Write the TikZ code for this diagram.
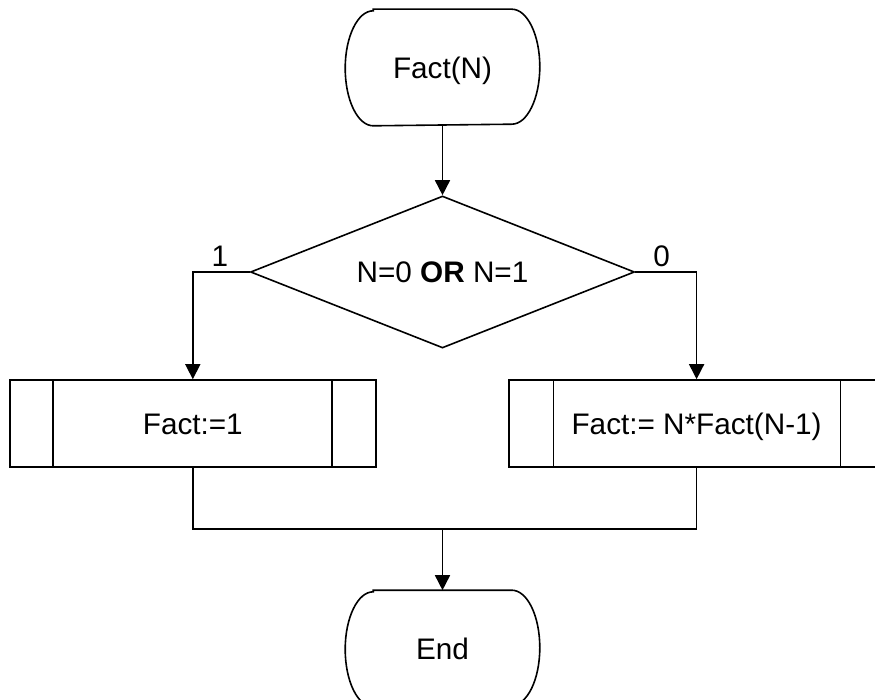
\documentclass[tikz,border=0pt]{standalone}
\usepackage{fontspec}
\setmainfont{Liberation Sans}
\usetikzlibrary{shapes.geometric,arrows.meta}
\begin{document}
\begin{tikzpicture}[x=1pt,y=-1pt,
  line width=1.6pt,
  every node/.style={font=\fontsize{29.7}{35}\selectfont, inner sep=0pt, text height=21.3pt, text depth=0pt},
  arr/.style={-{Triangle[length=15pt,width=15pt]}},
  term/.style={minimum width=193pt, minimum height=115pt},
  procbox/.style={draw, rectangle, minimum height=87pt},
  decision/.style={draw, diamond, shape aspect=2.5, minimum width=384pt, minimum height=152pt},
  lbl/.style={}]
\useasboundingbox (0,0) rectangle (875,700);
\clip (0,0) rectangle (875,700);
% start terminal
\node[term] (start) at (442.5,67.5) {Fact(N)};
\draw ([xshift=28pt]start.north west) -- ([xshift=-28pt]start.north east)
  arc[start angle=90, end angle=-90, x radius=28pt, y radius=57.5pt]
  -- ([xshift=28pt]start.south west)
  arc[start angle=270, end angle=90, x radius=28pt, y radius=57.5pt] -- cycle;
% decision
\node[decision] (dec) at (442.5,272) {N=0 \textbf{OR} N=1};
% process boxes
\node[procbox, minimum width=366pt] (lb) at (192.8,423.5) {Fact:=1};
\draw ([xshift=44pt]lb.north west) -- ([xshift=44pt]lb.south west);
\draw ([xshift=-44.5pt]lb.north east) -- ([xshift=-44.5pt]lb.south east);
\node[procbox, minimum width=375pt] (rb) at (696.6,423.5) {Fact:= N*Fact(N-1)};
\draw ([xshift=45pt]rb.north west) -- ([xshift=45pt]rb.south west);
\draw ([xshift=-44.5pt]rb.north east) -- ([xshift=-44.5pt]rb.south east);
% end terminal
\node[term] (end) at (442.5,648.5) {End};
\draw ([xshift=28pt]end.north west) -- ([xshift=-28pt]end.north east)
  arc[start angle=90, end angle=-90, x radius=28pt, y radius=57.5pt]
  -- ([xshift=28pt]end.south west)
  arc[start angle=270, end angle=90, x radius=28pt, y radius=57.5pt] -- cycle;
% connectors
\draw[arr] (start.south) -- (dec.north);
\draw[arr] (dec.west) -| (lb.north);
\draw[arr] (dec.east) -| (rb.north);
\node[lbl] (l1) at (220,256) {1};
\node[lbl] (l0) at (661.5,256) {0};
\coordinate (m) at (442.5,529);
\draw (lb.south) |- (m) -| (rb.south);
\draw[arr] (m) -- (end.north);
\end{tikzpicture}
\end{document}
